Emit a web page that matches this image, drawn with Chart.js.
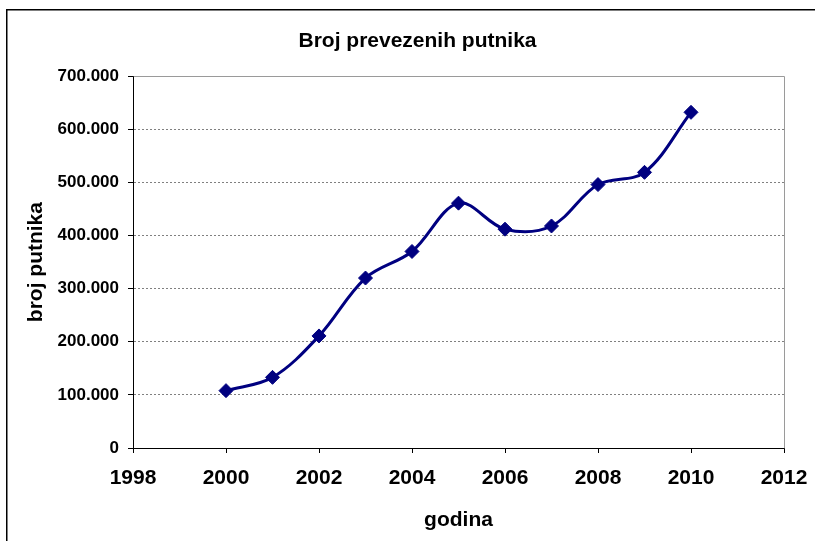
<!DOCTYPE html>
<html>
<head>
<meta charset="utf-8">
<script src="https://cdn.jsdelivr.net/npm/chart.js@4/dist/chart.umd.min.js"></script>
<style>
  html, body { margin: 0; padding: 0; background: #fff; }
  #wrap { position: relative; width: 815px; height: 541px; }
</style>
</head>
<body>
<div id="wrap"><canvas id="c" width="815" height="541"></canvas></div>
<script>
// ---- data ----
const chartTitle = 'Broj prevezenih putnika';
const xAxisTitle = 'godina';
const yAxisTitle = 'broj putnika';
const years = [2000, 2001, 2002, 2003, 2004, 2005, 2006, 2007, 2008, 2009, 2010];
const passengers = [108000, 133000, 211000, 320000, 370000, 461000, 412000, 418000, 496000, 519000, 632000];
const xRange = [1998, 2012];
const xStep = 2;
const yRange = [0, 700000];
const yStep = 100000;

const FONT = "Arial, 'Liberation Sans', sans-serif";

function fmtThousands(v) {
  return String(Math.round(v)).replace(/\B(?=(\d{3})+(?!\d))/g, '.');
}

const framePlugin = {
  id: 'frame',
  beforeDatasetsDraw(chart) {
    const { ctx, chartArea: a } = chart;
    ctx.save();
    ctx.setLineDash([]);
    ctx.strokeStyle = '#9a9a9a';
    ctx.lineWidth = 1;
    ctx.beginPath();
    ctx.moveTo(Math.round(a.left) + 0.5, Math.round(a.top) + 0.5);
    ctx.lineTo(Math.round(a.right) + 0.5, Math.round(a.top) + 0.5);
    ctx.lineTo(Math.round(a.right) + 0.5, Math.round(a.bottom) + 0.5);
    ctx.stroke();
    // solid black axes
    ctx.strokeStyle = '#000';
    ctx.beginPath();
    ctx.moveTo(Math.round(a.left) + 0.5, Math.round(a.top) + 0.5);
    ctx.lineTo(Math.round(a.left) + 0.5, Math.round(a.bottom) + 0.5);
    ctx.lineTo(Math.round(a.right) + 0.5, Math.round(a.bottom) + 0.5);
    ctx.stroke();
    ctx.restore();
  },
  afterDraw(chart) {
    const { ctx } = chart;
    ctx.save();
    ctx.setLineDash([]);
    ctx.strokeStyle = '#000';
    ctx.lineWidth = 1.5;
    ctx.strokeRect(6.75, 9.75, 900, 700);
    ctx.restore();
  }
};

new Chart(document.getElementById('c'), {
  type: 'line',
  data: {
    datasets: [{
      data: years.map((y, i) => ({ x: y, y: passengers[i] })),
      borderColor: '#000080',
      backgroundColor: '#000080',
      borderWidth: 3,
      tension: 0.35,
      pointStyle: 'rectRot',
      pointRadius: 7,
      pointHoverRadius: 7,
      pointBackgroundColor: '#000080',
      pointBorderColor: '#000080',
      pointBorderWidth: 1
    }]
  },
  options: {
    responsive: false,
    animation: false,
    devicePixelRatio: 1,
    layout: { padding: { left: 20, right: 0, top: 10, bottom: 4 } },
    plugins: {
      legend: { display: false },
      tooltip: { enabled: false },
      title: {
        display: true,
        text: chartTitle,
        color: '#000',
        font: { family: FONT, size: 21, weight: 'bold' },
        padding: { top: 19, bottom: 22 }
      }
    },
    scales: {
      x: {
        type: 'linear',
        min: xRange[0],
        max: xRange[1],
        afterFit(scale) { scale.height = 89; scale.paddingRight = 31; },
        ticks: {
          stepSize: xStep,
          color: '#000',
          padding: 13,
          font: { family: FONT, size: 21, weight: 'bold' },
          callback: (v) => String(v)
        },
        grid: {
          drawOnChartArea: false,
          drawTicks: true,
          tickLength: 5,
          tickColor: '#000'
        },
        border: { display: true, color: '#000', width: 1 },
        title: {
          display: true,
          text: xAxisTitle,
          color: '#000',
          font: { family: FONT, size: 21, weight: 'bold' },
          padding: { top: 4, bottom: 4 }
        }
      },
      y: {
        min: yRange[0],
        max: yRange[1],
        afterFit(scale) { scale.width = 113; },
        ticks: {
          stepSize: yStep,
          color: '#000',
          padding: 9,
          font: { family: FONT, size: 17, weight: 'bold' },
          callback: (v) => fmtThousands(v)
        },
        grid: {
          drawOnChartArea: true,
          color: '#808080',
          lineWidth: 1,
          drawTicks: true,
          tickLength: 5,
          tickColor: '#000',
          tickBorderDash: [1, 0]
        },
        border: { display: true, color: '#000', width: 1, dash: [2, 2] },
        title: {
          display: true,
          text: yAxisTitle,
          color: '#000',
          font: { family: FONT, size: 21, weight: 'bold' },
          padding: { top: 4, bottom: 4 }
        }
      }
    }
  },
  plugins: [framePlugin]
});
</script>
</body>
</html>
